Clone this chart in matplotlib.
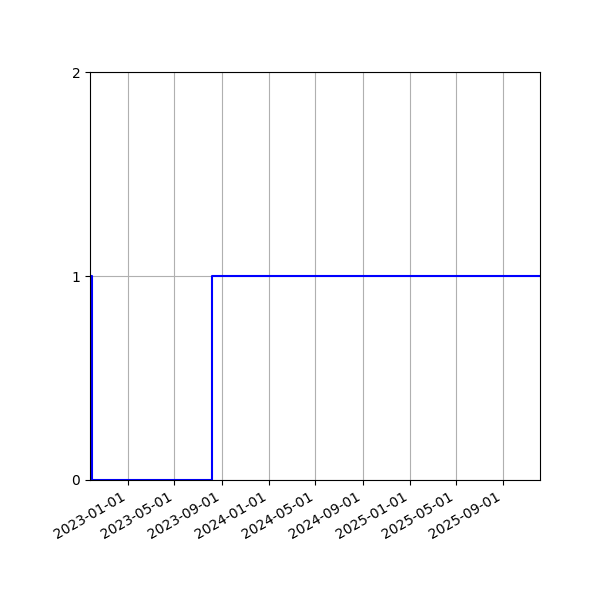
import numpy as np
import matplotlib
matplotlib.use("Agg")
from matplotlib import pyplot as plt
import matplotlib.dates as mdates

# step series
dates = np.array(["2022-09-24", "2022-09-30", "2023-08-07", "2025-12-06"], dtype="datetime64[D]")
values = [1, 0, 1, 1]
y_ticks = [0, 1, 2]

fig, ax = plt.subplots(figsize=(6, 6), dpi=100)
ax.plot(dates, values, drawstyle="steps-post", color="blue", linewidth=1.5)

ax.set_xlim(dates[0], dates[-1])
ax.set_ylim(0, 2)
ax.set_yticks(y_ticks)
ax.xaxis.set_major_locator(mdates.MonthLocator(bymonth=[1, 5, 9]))
ax.xaxis.set_major_formatter(mdates.DateFormatter("%Y-%m-%d"))
ax.grid(True)

fig.autofmt_xdate()
fig.subplots_adjust(left=0.15, right=0.9, top=0.88, bottom=0.2)
fig.savefig("out.png")
